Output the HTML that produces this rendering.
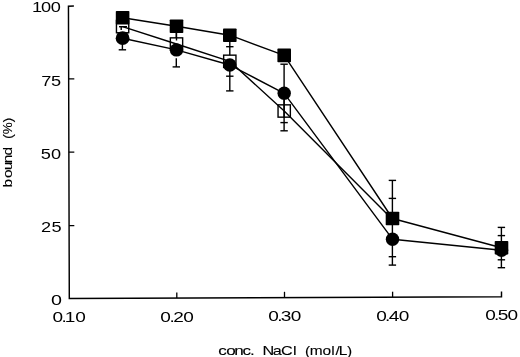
<!DOCTYPE html>
<html><head><meta charset="utf-8"><title>bound (%) vs conc. NaCl (mol/L)</title>
<style>
html,body{margin:0;padding:0;background:#fff;}
body{width:520px;height:357px;overflow:hidden;font-family:"Liberation Sans",sans-serif;}
svg{display:block;filter:grayscale(1);}
</style></head><body>
<svg width="520" height="357" viewBox="0 0 520 357">
<rect width="520" height="357" fill="#fff"/>
<g stroke="#000" stroke-width="1.45" fill="none" stroke-linecap="butt" stroke-linejoin="miter">
<path d="M73.9 6.05 L68.45 6.2 L69.3 298.5 L501.5 296.7 L501.5 291.5"/>
<path d="M68.7 78.9 L74.3 78.8" stroke-width="1.3"/>
<path d="M68.9 152.2 L74.3 152.1" stroke-width="1.3"/>
<path d="M69.1 225.7 L74.3 225.6" stroke-width="1.3"/>
<path d="M176.8 298.05 V292.4" stroke-width="1.3"/>
<path d="M284.5 297.6 V291.8" stroke-width="1.3"/>
<path d="M392.6 297.15 V291.7" stroke-width="1.3"/>
</g>
<g stroke="#000" stroke-width="1.4" fill="none">
<path d="M122.4 26.7 V49.8"/>
<path d="M118.7 49.8 H126.1"/>
<path d="M176.3 32 V45"/>
<path d="M176.3 58.3 V66.9"/>
<path d="M172.6 66.9 H180.0"/>
<path d="M229.8 41 V90.9"/>
<path d="M226.1 46.7 H233.5"/>
<path d="M226.1 76.2 H233.5"/>
<path d="M226.1 90.9 H233.5"/>
<path d="M284.1 64.2 V130.8"/>
<path d="M280.4 64.2 H287.8"/>
<path d="M280.4 122.6 H287.8"/>
<path d="M280.4 130.8 H287.8"/>
<path d="M392.4 180.4 V265.1"/>
<path d="M388.7 180.4 H396.1"/>
<path d="M388.7 198.4 H396.1"/>
<path d="M388.7 256.7 H396.1"/>
<path d="M388.7 265.1 H396.1"/>
<path d="M501.4 227.4 V267.7"/>
<path d="M497.7 227.4 H505.1"/>
<path d="M497.7 235.6 H505.1"/>
<path d="M497.7 259.8 H505.1"/>
<path d="M497.7 267.7 H505.1"/>
</g>
<rect x="116.45" y="20.45" width="12.3" height="12.3" fill="#fff" stroke="#000" stroke-width="1.4"/>
<rect x="170.35" y="37.85" width="12.3" height="12.3" fill="#fff" stroke="#000" stroke-width="1.4"/>
<rect x="223.65" y="55.15" width="12.3" height="12.3" fill="#fff" stroke="#000" stroke-width="1.4"/>
<rect x="278.05" y="104.85" width="12.3" height="12.3" fill="none" stroke="#000" stroke-width="1.4"/>
<g stroke="#000" stroke-width="1.4" fill="none">
<path d="M119.0 26.7 H127.0"/>
<path d="M121.2 26.7 V30"/>
<path d="M176.5 32 V40.5"/>
<path d="M284.1 100 V118"/>
</g>
<polyline points="122.6,26.6 176.5,44.0 229.8,61.3 284.2,111.0 392.5,219.4" fill="none" stroke="#000" stroke-width="1.4" stroke-linejoin="round"/>
<polyline points="122.6,38.2 176.5,49.9 229.8,65.0 284.2,93.3 392.5,239.2 501.5,250.2" fill="none" stroke="#000" stroke-width="1.4" stroke-linejoin="round"/>
<polyline points="122.6,17.8 176.5,26.2 229.8,35.2 284.2,55.4 392.5,218.5 501.5,247.7" fill="none" stroke="#000" stroke-width="1.4" stroke-linejoin="round"/>
<rect x="115.8" y="11.0" width="13.6" height="13.6" rx="0.8" fill="#000"/>
<rect x="169.7" y="19.4" width="13.6" height="13.6" rx="0.8" fill="#000"/>
<rect x="223.0" y="28.4" width="13.6" height="13.6" rx="0.8" fill="#000"/>
<rect x="277.4" y="48.6" width="13.6" height="13.6" rx="0.8" fill="#000"/>
<rect x="385.7" y="211.7" width="13.6" height="13.6" rx="0.8" fill="#000"/>
<rect x="494.7" y="240.9" width="13.6" height="13.6" rx="0.8" fill="#000"/>
<circle cx="122.6" cy="38.2" r="6.9" fill="#000"/>
<circle cx="176.5" cy="49.9" r="6.7" fill="#000"/>
<circle cx="229.8" cy="65.0" r="6.7" fill="#000"/>
<circle cx="284.2" cy="93.3" r="6.7" fill="#000"/>
<circle cx="392.5" cy="239.2" r="6.7" fill="#000"/>
<circle cx="501.5" cy="250.2" r="6.7" fill="#000"/>
<g font-family="'Liberation Sans', sans-serif" fill="#000">
<text transform="translate(31.92,12.2) scale(1.3000,1)" font-size="14.0" dx="0.00 -0.77 -0.40">100</text>
<text transform="translate(41.27,85.6) scale(1.3000,1)" font-size="14.0" dx="0.00 -0.27">75</text>
<text transform="translate(40.65,158.9) scale(1.3000,1)" font-size="14.0" dx="0.00 0.27">50</text>
<text transform="translate(41.02,231.7) scale(1.3000,1)" font-size="14.0" dx="0.00 0.25">25</text>
<text transform="translate(51.02,304.7) scale(1.4100,1)" font-size="14.0" dx="0.00">0</text>
<text transform="translate(52.62,321.55) scale(1.3600,1)" font-size="14.0" dx="0.00 -1.23 -1.50 -0.04">0.10</text>
<text transform="translate(160.29,321.5) scale(1.3600,1)" font-size="14.0" dx="0.00 -1.02 -1.18 -0.46">0.20</text>
<text transform="translate(268.14,321.2) scale(1.3600,1)" font-size="14.0" dx="0.00 -1.15 -1.17 -0.52">0.30</text>
<text transform="translate(376.14,321.0) scale(1.3600,1)" font-size="14.0" dx="0.00 -1.29 -1.10 -0.45">0.40</text>
<text transform="translate(485.14,320.4) scale(1.3600,1)" font-size="14.0" dx="0.00 -1.21 -1.23 -0.51">0.50</text>
<text transform="translate(218.21,354.7) scale(1.4000,1)" font-size="12.2" dx="0.00 -0.38 -1.02 -0.88 -0.75" stroke="#000" stroke-width="0.1">conc.</text>
<text transform="translate(262.61,354.7) scale(1.3300,1)" font-size="12.2" dx="0.00 -1.24 -0.59 0.20" stroke="#000" stroke-width="0.1">NaCl</text>
<text transform="translate(305.02,354.7) scale(1.2700,1)" font-size="12.2" dx="0.00 -0.40 -0.16 0.16 0.73 -0.82 -0.37" stroke="#000" stroke-width="0.1">(mol/L)</text>
<g transform="translate(12.3,187.2) rotate(-90)">
<text transform="translate(-0.29,0) scale(1.2700,1)" font-size="12.2" dx="0.00 0.63 -0.60 -1.35 -0.69" stroke="#000" stroke-width="0.1">bound</text>
<text transform="translate(48.34,0) scale(1.1000,1)" font-size="12.2" dx="0.00 0.11 0.05" stroke="#000" stroke-width="0.1">(%)</text>
</g>
</g>
</svg>
</body></html>
